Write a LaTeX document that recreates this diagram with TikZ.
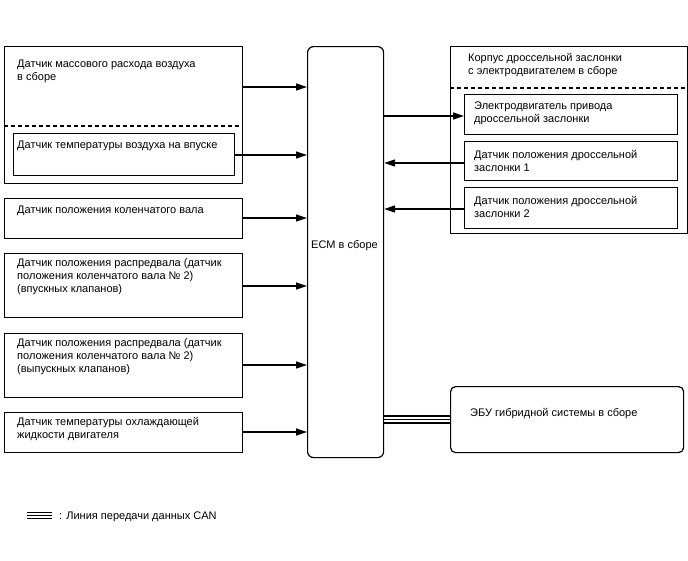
\documentclass[tikz,border=0pt]{standalone}
\usepackage{fontspec}
\setmainfont{Liberation Sans}
\usetikzlibrary{arrows.meta}

\begin{document}
\begin{tikzpicture}[x=1pt,y=-1pt,
	box/.style={draw,line width=1.2pt,inner sep=0pt,anchor=north west},
	lbl/.style={anchor=west,align=left,inner sep=0pt,font=\fontsize{11}{13}\selectfont},
	sig/.style={line width=1.3pt,-{Triangle[length=11pt,width=7pt]}},
	sep/.style={line width=1.1pt,dash pattern=on 4pt off 3pt},
	can/.style={line width=1.1pt}]
	\useasboundingbox (0,0) rectangle (688,560);
	% left side
	\node[box,minimum width=238pt,minimum height=137pt] (maf) at (4,46) {};
	\node[lbl] (maftxt) at (17,71) {Датчик массового расхода воздуха\\в сборе};
	\draw[sep] (maf.west |- 0,126) -- (maf.east |- 0,126);
	\node[box,minimum width=221pt,minimum height=42pt] (iat) at (13,133) {};
	\node[lbl] (iattxt) at (17,146) {Датчик температуры воздуха на впуске};
	\node[box,minimum width=238pt,minimum height=40pt] (crank) at (4,198) {};
	\node[lbl] (cranktxt) at (17,211) {Датчик положения коленчатого вала};
	\node[box,minimum width=238pt,minimum height=64pt] (camin) at (4,253) {};
	\node[lbl] (camintxt) at (17,277) {Датчик положения распредвала (датчик\\положения коленчатого вала № 2)\\(впускных клапанов)};
	\node[box,minimum width=238pt,minimum height=64pt] (camex) at (4,333) {};
	\node[lbl] (camextxt) at (17,357) {Датчик положения распредвала (датчик\\положения коленчатого вала № 2)\\(выпускных клапанов)};
	\node[box,minimum width=238pt,minimum height=40pt] (ect) at (4,412) {};
	\node[lbl] (ecttxt) at (17,429.5) {Датчик температуры охлаждающей\\жидкости двигателя};
	% ECM
	\node[box,rounded corners=6pt,minimum width=76pt,minimum height=411pt] (ecm) at (307,46) {};
	\node[lbl] (ecmtxt) at (311,245.5) {ECM в сборе};
	% right side
	\node[box,minimum width=237pt,minimum height=187pt] (tb) at (450,46) {};
	\node[lbl] (tbtxt) at (468,65) {Корпус дроссельной заслонки\\с электродвигателем в сборе};
	\draw[sep] (tb.west |- 0,88) -- (tb.east |- 0,88);
	\node[box,minimum width=213pt,minimum height=40pt] (motor) at (464,94) {};
	\node[lbl] (motortxt) at (474,113.5) {Электродвигатель привода\\дроссельной заслонки};
	\node[box,minimum width=213pt,minimum height=39pt] (tps1) at (464,141) {};
	\node[lbl] (tps1txt) at (474,160.5) {Датчик положения дроссельной\\заслонки 1};
	\node[box,minimum width=213pt,minimum height=41pt] (tps2) at (464,187) {};
	\node[lbl] (tps2txt) at (474,207) {Датчик положения дроссельной\\заслонки 2};
	\node[box,rounded corners=5pt,minimum width=233pt,minimum height=66pt] (hv) at (450,386) {};
	\node[lbl] (hvtxt) at (470,414) {ЭБУ гибридной системы в сборе};
	% connectors
	\coordinate (a1) at (maf.east |- 0,87);
	\coordinate (a2) at (iat.east |- 0,155);
	\coordinate (a3) at (crank.east |- 0,218);
	\coordinate (a4) at (camin.east |- 0,286);
	\coordinate (a5) at (camex.east |- 0,365);
	\coordinate (a6) at (ect.east |- 0,432);
	\foreach \p in {a1,a2,a3,a4,a5,a6}
		\draw[sig] (\p) -- (\p -| ecm.west);
	\coordinate (b1) at (motor.west |- 0,116);
	\coordinate (b2) at (tps1.west |- 0,163);
	\coordinate (b3) at (tps2.west |- 0,209);
	\draw[sig] (b1 -| ecm.east) -- (b1);
	\draw[sig] (b2) -- (b2 -| ecm.east);
	\draw[sig] (b3) -- (b3 -| ecm.east);
	\foreach \y in {416,419.5,423}
		\draw[can] (ecm.east |- 0,\y) -- (hv.west |- 0,\y);
	% legend
	\coordinate (lg) at (27,0);
	\foreach \y in {512.5,515.5,518.5}
		\draw[can] (lg |- 0,\y) -- ++(25,0);
	\node[lbl] (lgtxt) at (59,517) {: Линия передачи данных CAN};
\end{tikzpicture}
\end{document}
